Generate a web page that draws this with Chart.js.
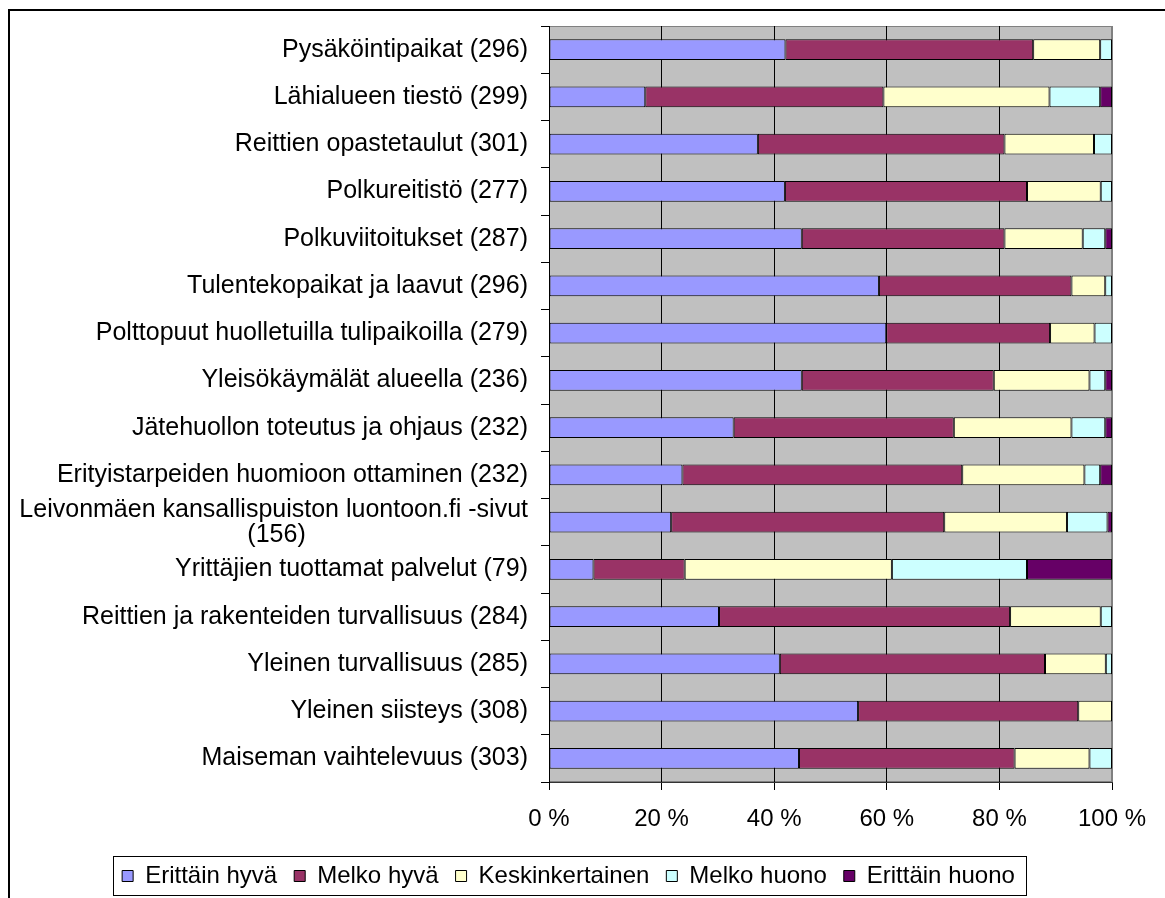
<!DOCTYPE html>
<html>
<head>
<meta charset="utf-8">
<script src="https://cdn.jsdelivr.net/npm/chart.js@4"></script>
<style>
  html, body { margin: 0; padding: 0; background: #fff; overflow: hidden; }
  #frame { position: absolute; left: 8px; top: 9px; width: 1200px; height: 1000px; border: 2px solid #000; }
  #chart { position: absolute; left: 0; top: 0; }
</style>
</head>
<body>
<div id="frame"></div>
<canvas id="chart" width="1165" height="898"></canvas>
<script>
// Categories (top to bottom)
const categories = [
    'Pysäköintipaikat (296)',
    'Lähialueen tiestö (299)',
    'Reittien opastetaulut (301)',
    'Polkureitistö (277)',
    'Polkuviitoitukset (287)',
    'Tulentekopaikat ja laavut (296)',
    'Polttopuut huolletuilla tulipaikoilla (279)',
    'Yleisökäymälät alueella (236)',
    'Jätehuollon toteutus ja ohjaus (232)',
    'Erityistarpeiden huomioon ottaminen (232)',
    ['Leivonmäen kansallispuiston luontoon.fi -sivut', '(156)'],
    'Yrittäjien tuottamat palvelut (79)',
    'Reittien ja rakenteiden turvallisuus (284)',
    'Yleinen turvallisuus (285)',
    'Yleinen siisteys (308)',
    'Maiseman vaihtelevuus (303)'
];

// Shares in percent, one array per answer
const erittainHyva = [42.0, 17.1, 37.1, 41.9, 44.9, 58.6, 59.9, 44.9, 32.8, 23.7, 21.7, 7.9, 30.2, 41.0, 54.9, 44.4];
const melkoHyva = [44.0, 42.3, 43.8, 43.0, 36.0, 34.2, 29.1, 34.1, 39.1, 49.7, 48.5, 16.2, 51.7, 47.1, 39.1, 38.3];
const keskinkertainen = [11.9, 29.5, 15.9, 13.1, 13.9, 6.0, 7.9, 17.0, 20.9, 21.7, 21.8, 36.8, 16.1, 10.8, 6.0, 13.3];
const melkoHuono = [2.1, 9.0, 3.2, 2.0, 4.0, 1.2, 3.1, 2.8, 6.0, 2.8, 7.2, 24.0, 2.0, 1.1, 0, 4.0];
const erittainHuono = [0, 2.1, 0, 0, 1.2, 0, 0, 1.2, 1.2, 2.1, 0.8, 15.1, 0, 0, 0, 0];

// x axis ticks
const xTicks = [0, 20, 40, 60, 80, 100];

const seriesNames = ['Erittäin hyvä', 'Melko hyvä', 'Keskinkertainen', 'Melko huono', 'Erittäin huono'];
const seriesColors = ['#9999ff', '#993366', '#ffffcc', '#ccffff', '#660066'];
const seriesData = [erittainHyva, melkoHyva, keskinkertainen, melkoHuono, erittainHuono];

const fontFamily = "'Liberation Sans', Arial, sans-serif";
Chart.defaults.font.family = fontFamily;
Chart.defaults.font.size = 24;
Chart.defaults.color = '#000';

// Wrapped labels: centre the shorter line under the longer one, like Excel does
const measureCtx = document.createElement('canvas').getContext('2d');
measureCtx.font = '25px ' + fontFamily;
function centerLines(label) {
    if (!Array.isArray(label)) return label;
    const widths = label.map(l => measureCtx.measureText(l).width);
    const maxW = Math.max(...widths);
    const space = measureCtx.measureText(' ').width;
    return label.map((l, i) => l + ' '.repeat(Math.round((maxW - widths[i]) / 2 / space)));
}

// Gray plot area, legend frame, legend centring
const chartDecor = {
    id: 'chartDecor',
    beforeDraw(chart) {
        const { ctx, chartArea: a } = chart;
        ctx.save();
        ctx.fillStyle = '#c0c0c0';
        ctx.fillRect(a.left, a.top, a.width, a.height);
        ctx.strokeStyle = '#808080';
        ctx.lineWidth = 1;
        ctx.strokeRect(a.left + 0.5, a.top + 0.5, a.width - 1, a.height - 1);
        ctx.restore();
    },
    afterLayout(chart) {
        chart.legend.left = 0;
        chart.legend.right = 1137;
    },
    afterDraw(chart) {
        const boxes = chart.legend.legendHitBoxes;
        if (!boxes || !boxes.length) return;
        const first = boxes[0];
        const last = boxes[boxes.length - 1];
        const ctx = chart.ctx;
        const left = Math.round(first.left - 9) + 0.5;
        const right = Math.round(last.left + last.width + 11) + 0.5;
        const top = Math.round(first.top - 8) + 0.5;
        const bottom = Math.round(first.top + first.height + 7) + 0.5;
        ctx.save();
        ctx.strokeStyle = '#000';
        ctx.lineWidth = 1;
        ctx.strokeRect(left, top, right - left, bottom - top);
        ctx.restore();
    }
};

const ctx = document.getElementById('chart').getContext('2d');

new Chart(ctx, {
    type: 'bar',
    data: {
        labels: categories,
        datasets: seriesNames.map((name, i) => ({
            label: name,
            data: seriesData[i],
            backgroundColor: seriesColors[i],
            borderColor: '#000',
            borderWidth: 1,
            borderSkipped: false,
            barPercentage: 0.44,
            categoryPercentage: 1
        }))
    },
    options: {
        indexAxis: 'y',
        responsive: false,
        animation: false,
        layout: { padding: { top: 26, right: 53, left: 0, bottom: 0 } },
        scales: {
            x: {
                stacked: true,
                min: 0,
                max: 100,
                afterBuildTicks: scale => { scale.ticks = xTicks.map(v => ({ value: v })); },
                afterFit: scale => { scale.height = 65; },
                ticks: {
                    padding: 15,
                    maxRotation: 0,
                    callback: v => v + ' %'
                },
                grid: {
                    color: c => (c.tick && c.tick.value === 100 ? '#808080' : '#000'),
                    tickColor: '#000',
                    tickLength: 8,
                    lineWidth: 1
                },
                border: { color: '#333', width: 1 }
            },
            y: {
                stacked: true,
                afterFit: scale => { scale.width = 549; },
                ticks: {
                    padding: 13,
                    autoSkip: false,
                    font: { size: 25, lineHeight: 1.0 },
                    callback: function (value) {
                        return centerLines(this.getLabelForValue(value));
                    }
                },
                grid: {
                    drawOnChartArea: false,
                    color: '#000',
                    tickLength: 8
                },
                border: { color: '#000', width: 1 }
            }
        },
        plugins: {
            legend: {
                position: 'bottom',
                labels: {
                    boxWidth: 11,
                    boxHeight: 11,
                    padding: 17,
                    color: '#000'
                }
            },
            tooltip: { enabled: false }
        }
    },
    plugins: [chartDecor]
});
</script>
</body>
</html>
